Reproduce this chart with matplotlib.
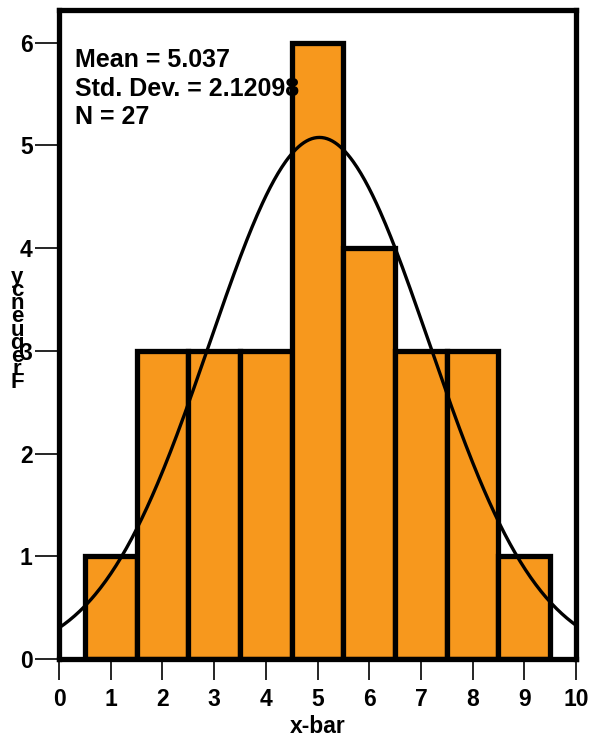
import numpy as np
import matplotlib.pyplot as plt

plt.rcParams['font.family'] = ['Liberation Sans', 'DejaVu Sans']
plt.rcParams['font.weight'] = 'bold'

# histogram of x-bar values
bin_centers = [1, 2, 3, 4, 5, 6, 7, 8, 9]
counts = [1, 3, 3, 3, 6, 4, 3, 3, 1]
mean = 5.037
std = 2.12098
n = 27

orange = '#F7981D'

fig = plt.figure(figsize=(5.93, 7.41), dpi=100)
ax = fig.add_axes([59 / 593, 1 - 659 / 741, 517 / 593, 649 / 741])

ax.bar(bin_centers, counts, width=1.0, color=orange, edgecolor='black',
       linewidth=3.8, zorder=2)

# fitted normal curve scaled to counts
xs = np.linspace(0, 10, 400)
ys = n * 1.0 / (std * np.sqrt(2 * np.pi)) * np.exp(-(xs - mean) ** 2 / (2 * std ** 2))
ax.plot(xs, ys, color='black', linewidth=2.4, zorder=3)

ax.set_xlim(0, 10)
ax.set_ylim(0, 649 / 102.7)
ax.set_xticks(range(0, 11))
ax.set_yticks(range(0, 7))
ax.tick_params(axis='both', direction='out', width=1.2, labelsize=16.5)
ax.tick_params(axis='x', length=15, pad=6)
ax.tick_params(axis='y', length=17, pad=2)
for lab in ax.get_xticklabels() + ax.get_yticklabels():
    lab.set_fontweight('bold')

for sp in ax.spines.values():
    sp.set_linewidth(3.8)
    sp.set_zorder(5)

ax.set_xlabel('x-bar', fontsize=16.5, fontweight='bold', labelpad=3)

# stacked y label letters
word = 'Frequency'
for i, ch in enumerate(word):
    ypx = 383 - i * 13.2
    fig.text(17 / 593, 1 - ypx / 741, ch, ha='center', va='center',
             fontsize=16, fontweight='bold')

stats = ['Mean = %.3f' % mean, 'Std. Dev. = %.5f' % std, 'N = %d' % n]
for i, s in enumerate(stats):
    fig.text(75 / 593, 1 - (67 + i * 28.5) / 741, s, ha='left', va='baseline',
             fontsize=18, fontweight='bold', zorder=4)

fig.savefig('out.png', dpi=100)
